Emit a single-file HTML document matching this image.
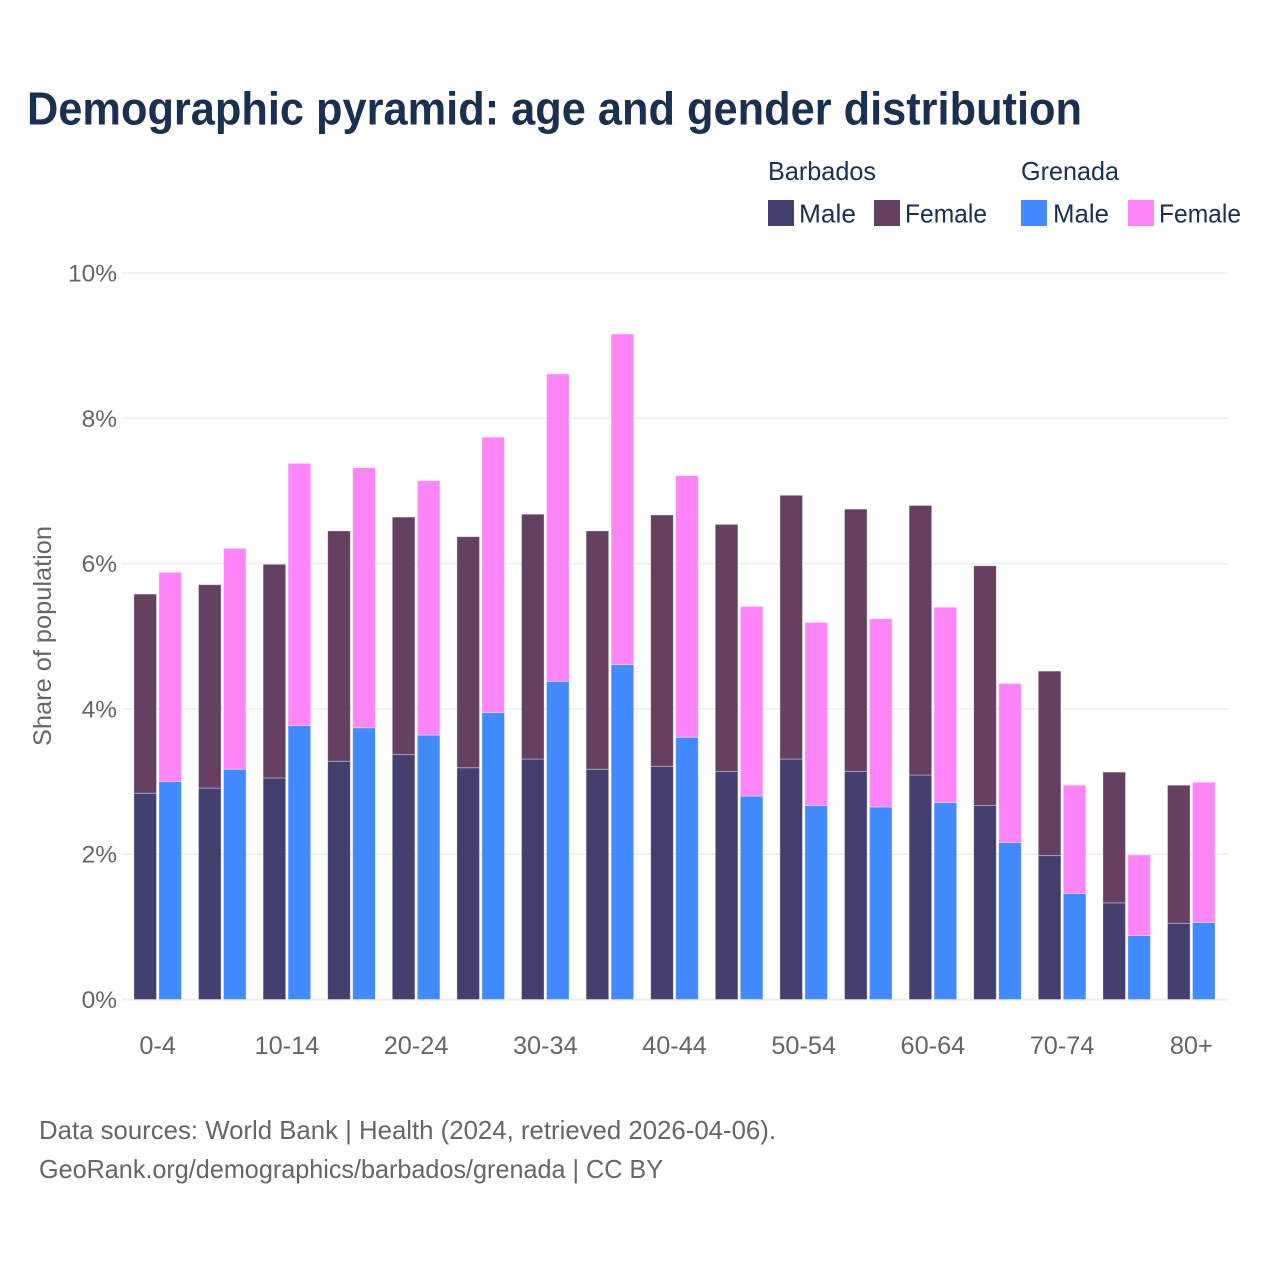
<!DOCTYPE html>
<html lang="en">
<head>
<meta charset="utf-8">
<title>Demographic pyramid</title>
<style>
html,body{margin:0;padding:0;background:#fff;}
svg{display:block;font-family:"Liberation Sans",sans-serif;}
</style>
</head>
<body>
<svg id="chart" xmlns="http://www.w3.org/2000/svg" width="1280" height="1280" viewBox="0 0 1280 1280">
  <rect x="0" y="0" width="1280" height="1280" fill="#fff"/>
  <text x="27" y="124.5" font-size="46" font-weight="700" fill="#1a3050" textLength="1055" lengthAdjust="spacingAndGlyphs">Demographic pyramid: age and gender distribution</text>

  <g font-size="26" fill="#1a3050">
    <text x="768" y="180" textLength="108" lengthAdjust="spacingAndGlyphs">Barbados</text>
    <text x="1021" y="180" textLength="98" lengthAdjust="spacingAndGlyphs">Grenada</text>
    <rect x="768" y="200" width="26" height="26" fill="#433f6f"/>
    <text x="799" y="222.5" textLength="57" lengthAdjust="spacingAndGlyphs">Male</text>
    <rect x="874" y="200" width="26" height="26" fill="#664060"/>
    <text x="905" y="222.5" textLength="82" lengthAdjust="spacingAndGlyphs">Female</text>
    <rect x="1021" y="200" width="26" height="26" fill="#418aff"/>
    <text x="1053" y="222.5" textLength="56" lengthAdjust="spacingAndGlyphs">Male</text>
    <rect x="1128" y="200" width="26" height="26" fill="#ff85f8"/>
    <text x="1159" y="222.5" textLength="82" lengthAdjust="spacingAndGlyphs">Female</text>
  </g>

  <g id="grid"></g>
  <g id="bars"></g>
  <g id="yticks"></g>
  <g id="xticks"></g>

  <text transform="translate(51,746) rotate(-90)" x="0" y="0" font-size="25" fill="#666" textLength="220" lengthAdjust="spacingAndGlyphs">Share of population</text>

  <text x="39" y="1139" font-size="26" fill="#666" textLength="737" lengthAdjust="spacingAndGlyphs">Data sources: World Bank | Health (2024, retrieved 2026-04-06).</text>
  <text x="39" y="1178" font-size="26" fill="#666" textLength="624" lengthAdjust="spacingAndGlyphs">GeoRank.org/demographics/barbados/grenada | CC BY</text>
</svg>
<script>
const categories = ["0-4","5-9","10-14","15-19","20-24","25-29","30-34","35-39","40-44","45-49","50-54","55-59","60-64","65-69","70-74","75-79","80+"];
const barbadosMale = [2.84,2.91,3.05,3.28,3.37,3.19,3.31,3.17,3.21,3.14,3.31,3.14,3.09,2.67,1.98,1.33,1.05];
const barbadosFemale = [2.74,2.80,2.94,3.17,3.27,3.18,3.37,3.28,3.46,3.40,3.63,3.61,3.71,3.30,2.54,1.80,1.90];
const grenadaMale = [3.00,3.17,3.77,3.74,3.64,3.95,4.38,4.61,3.61,2.80,2.67,2.65,2.71,2.16,1.46,0.88,1.06];
const grenadaFemale = [2.88,3.04,3.61,3.58,3.50,3.79,4.23,4.55,3.60,2.61,2.52,2.59,2.69,2.19,1.49,1.11,1.93];
const yTickValues = [0,2,4,6,8,10];
const xTickLabels = ["0-4","","10-14","","20-24","","30-34","","40-44","","50-54","","60-64","","70-74","","80+"];

const NS = "http://www.w3.org/2000/svg";
const plot = {left:122, right:1228, y0:999.5, y10:273, first:157.7, step:64.6, barW:22.6, gap:2.4};

function yScale(v){ return plot.y0 - (v/10)*(plot.y0-plot.y10); }
function xScale(i){ return plot.first + i*plot.step; }
function make(tag, attrs){
  const el = document.createElementNS(NS, tag);
  Object.keys(attrs).forEach(function(k){ el.setAttribute(k, attrs[k]); });
  return el;
}

const grid = document.getElementById("grid");
const yticks = document.getElementById("yticks");
yTickValues.forEach(function(v){
  const line = make("line", {x1:plot.left, x2:plot.right, y1:yScale(v), y2:yScale(v), stroke:"#eeeef1", "stroke-width":v===0?2:1.5});
  
  
  grid.appendChild(line);
  const t = make("text", {x:117, y:yScale(v)+8.5, "text-anchor":"end", "font-size":24.5, fill:"#666"});
  
  
  t.textContent = v + "%";
  yticks.appendChild(t);
});

const xticks = document.getElementById("xticks");
xTickLabels.forEach(function(label, i){
  if(!label) return;
  const t = make("text", {x:xScale(i), y:1054, "text-anchor":"middle", "font-size":25.3, fill:"#666"});
  
  
  t.textContent = label;
  xticks.appendChild(t);
});

const bars = document.getElementById("bars");
function stackedRect(x, base, value, fill){
  const top = yScale(base + value);
  const r = make("rect", {x:x, y:top, width:plot.barW, height:yScale(base)-top, fill:fill, stroke:"#fff", "stroke-opacity":0.45, "stroke-width":0.8});
  
  
  bars.appendChild(r);
}
categories.forEach(function(c, i){
  const cx = xScale(i);
  const xA = cx - plot.gap/2 - plot.barW;
  const xB = cx + plot.gap/2;
  stackedRect(xA, 0, barbadosMale[i], "#433f6f");
  stackedRect(xA, barbadosMale[i], barbadosFemale[i], "#664060");
  stackedRect(xB, 0, grenadaMale[i], "#418aff");
  stackedRect(xB, grenadaMale[i], grenadaFemale[i], "#ff85f8");
});
</script>
</body>
</html>
